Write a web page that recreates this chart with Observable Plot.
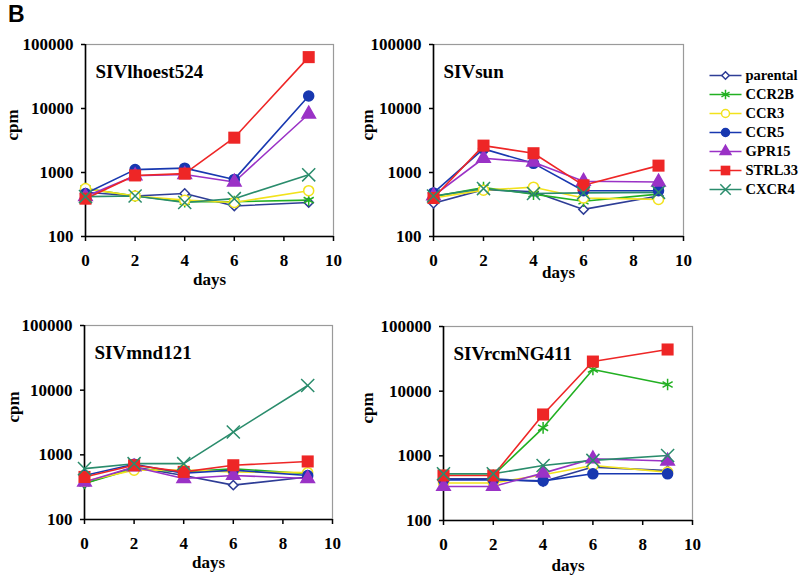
<!DOCTYPE html>
<html>
<head>
<meta charset="utf-8">
<script src="https://cdn.jsdelivr.net/npm/d3@7"></script>
<script src="https://cdn.jsdelivr.net/npm/@observablehq/plot@0.6"></script>
<style>
  html, body { margin: 0; padding: 0; background: #fff; }
  #root { position: relative; width: 800px; height: 586px; overflow: hidden; background: #fff; }
  #root > svg, #root > div { position: absolute; overflow: visible; }
  #panelLetter { font-family: "Liberation Sans", Arial, sans-serif; font-weight: bold; font-size: 23px; left: 8px; top: 1px; }
</style>
</head>
<body>
<div id="root"><div id="panelLetter">B</div></div>
<script>
// ---------------- data ----------------
const days = [0, 2, 4, 6, 9];
const seriesNames = ["parental", "CCR2B", "CCR3", "CCR5", "GPR15", "STRL33", "CXCR4"];
const panelNames = ["SIVlhoest524", "SIVsun", "SIVmnd121", "SIVrcmNG411"];
const xTicks = [0, 2, 4, 6, 8, 10];
const yTicks = [100, 1000, 10000, 100000];

// values per series (order as seriesNames), cpm at each day
const sivLhoest524 = [
  [490, 430, 470, 300, 340],
  [560, 430, 350, 350, 370],
  [560, 430, 370, 340, 520],
  [470, 1110, 1170, 780, 15700],
  [420, 890, 930, 710, 8200],
  [390, 900, 960, 3500, 63500],
  [420, 430, 340, 390, 920]
];
const sivSun = [
  [330, 540, 500, 265, 430],
  [420, 580, 460, 355, 460],
  [400, 530, 590, 400, 380],
  [480, 2340, 1390, 520, 520],
  [430, 1670, 1450, 730, 710],
  [400, 2630, 2000, 630, 1280],
  [430, 560, 470, 480, 490]
];
const sivMnd121 = [
  [360, 650, 480, 340, 455],
  [360, 610, 545, 610, 510],
  [390, 580, 580, 545, 530],
  [480, 715, 520, 580, 480],
  [380, 650, 430, 480, 430],
  [455, 690, 545, 690, 790],
  [612, 730, 730, 2250, 11800]
];
const sivRcmNG411 = [
  [440, 440, 400, 670, 590],
  [500, 500, 2710, 21600, 12700],
  [380, 380, 510, 710, 560],
  [425, 425, 410, 527, 527],
  [336, 336, 540, 900, 830],
  [497, 497, 4360, 28700, 44100],
  [527, 527, 710, 850, 1010]
];
const panelValues = [sivLhoest524, sivSun, sivMnd121, sivRcmNG411];

// ---------------- styles ----------------
const seriesColors = ["#2e3d96", "#22b022", "#f2e21c", "#1838b0", "#9a32c6", "#ee2626", "#2a8c6c"];
const markerStyles = [
  {symbol: "diamond2", r: 4.2, fill: "white", stroke: true},
  {symbol: "asterisk", r: 5.5, fill: "none", stroke: true},
  {symbol: "circle", r: 5, fill: "white", stroke: true},
  {symbol: "circle", r: 5, fill: true, stroke: true},
  {symbol: "triangle", r: 5, fill: true, stroke: true},
  {symbol: "square", r: 6.8, fill: true, stroke: false},
  {symbol: "times", r: 6, fill: "none", stroke: true}
];
const panelLayout = [
  {left: 85, top: 44, right: 333, bottom: 236, cpmX: 12, daysY: 284},
  {left: 433, top: 44, right: 683, bottom: 236, cpmX: 367, daysY: 277},
  {left: 84, top: 325, right: 332, bottom: 519, cpmX: 13, daysY: 567},
  {left: 443, top: 326, right: 692, bottom: 520, cpmX: 367, daysY: 570}
];
const font = {fontFamily: "'Liberation Serif', 'Times New Roman', serif", fontWeight: "bold"};

const root = document.getElementById("root");

function markerMarks(rows, scaleFactor, xAcc, yAcc) {
  return seriesNames.map((name, i) => {
    const m = markerStyles[i];
    const col = seriesColors[i];
    return Plot.dot(rows.filter(d => d.series === name), {
      x: xAcc, y: yAcc,
      symbol: m.symbol,
      r: m.r * scaleFactor,
      fill: m.fill === true ? col : m.fill,
      stroke: m.stroke ? col : "none",
      strokeWidth: 1.5
    });
  });
}

panelNames.forEach((pname, p) => {
  const L = panelLayout[p];
  const ml = 90, mr = 20, mt = 10, mb = 60;
  const rows = [];
  seriesNames.forEach((s, i) => days.forEach((d, j) => rows.push({series: s, day: d, value: panelValues[p][i][j]})));
  const chart = Plot.plot({
    width: (L.right - L.left) + ml + mr,
    height: (L.bottom - L.top) + mt + mb,
    marginLeft: ml, marginRight: mr, marginTop: mt, marginBottom: mb,
    style: {...font, fontSize: "17px", background: "transparent", overflow: "visible"},
    x: {domain: [0, 10]},
    y: {type: "log", domain: [100, 100000]},
    color: {domain: seriesNames, range: seriesColors},
    marks: [
      Plot.frame({stroke: "#9a9a9a", strokeWidth: 1.2}),
      Plot.ruleX([0], {stroke: "black", strokeWidth: 1.6}),
      Plot.ruleY([100], {stroke: "black", strokeWidth: 1.6}),
      Plot.axisX({ticks: xTicks, tickSize: 5, tickPadding: 12, stroke: "black", strokeWidth: 1.5, label: null, tickFormat: d => String(d), fill: "black"}),
      Plot.axisY({ticks: yTicks, tickSize: 4, tickPadding: 8, stroke: "black", strokeWidth: 1.5, label: null, tickFormat: d => String(d), fill: "black"}),
      Plot.text(["cpm"], {frameAnchor: "left", dx: L.cpmX - L.left, rotate: -90, fontSize: 17, fill: "black"}),
      Plot.text(["days"], {frameAnchor: "bottom", dy: L.daysY - L.bottom, fontSize: 17, fill: "black"}),
      Plot.text([pname], {frameAnchor: "top-left", dx: 10, dy: 20, textAnchor: "start", fontSize: 19, fill: "black"}),
      Plot.line(rows, {x: "day", y: "value", z: "series", stroke: "series", strokeWidth: 1.6}),
      ...markerMarks(rows, 1, "day", "value")
    ]
  });
  chart.style.left = (L.left - ml) + "px";
  chart.style.top = (L.top - mt) + "px";
  root.appendChild(chart);
});

// ---------------- legend ----------------
const legendRows = seriesNames.map(s => ({series: s}));
const legend = Plot.plot({
  width: 110, height: 170,
  marginLeft: 0, marginRight: 0, marginTop: 0, marginBottom: 0,
  style: {...font, fontSize: "14.5px", background: "transparent", overflow: "visible"},
  x: {domain: [0, 110], range: [0, 110], axis: null},
  y: {type: "point", domain: seriesNames, range: [15, 149], axis: null},
  color: {domain: seriesNames, range: seriesColors},
  marks: [
    Plot.link(legendRows, {x1: () => 9, x2: () => 41, y1: "series", y2: "series", stroke: "series", strokeWidth: 1.6}),
    ...markerMarks(legendRows.map(d => ({...d, pos: 25})), 0.8, "pos", "series"),
    Plot.text(legendRows, {x: () => 45, y: "series", text: "series", textAnchor: "start", fill: "black", fontSize: 14.5})
  ]
});
legend.style.left = "700px";
legend.style.top = "50px";
root.appendChild(legend);
</script>
</body>
</html>
